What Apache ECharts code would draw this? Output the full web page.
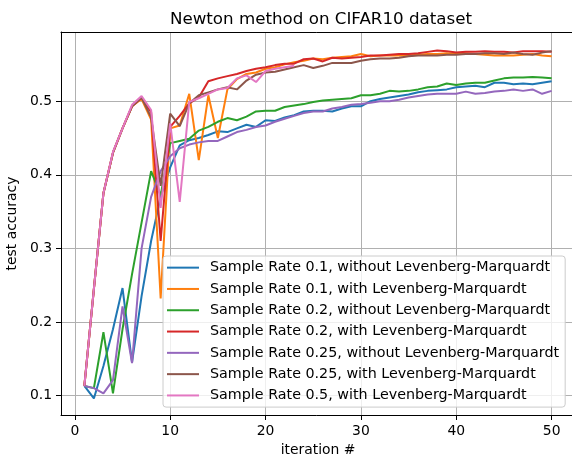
<!DOCTYPE html>
<html>
<head>
<meta charset="utf-8">
<script src="https://cdn.jsdelivr.net/npm/echarts@6/dist/echarts.min.js"></script>
<style>
  html, body { margin: 0; padding: 0; background: #fff; }
  #chart { width: 572px; height: 457px; }
</style>
</head>
<body>
<div id="chart"></div>
<script>
// iterations 1..50
const iterations = [
  1, 2, 3, 4, 5, 6, 7, 8, 9, 10, 11, 12, 13, 14, 15, 16, 17, 18, 19, 20,
  21, 22, 23, 24, 25, 26, 27, 28, 29, 30, 31, 32, 33, 34, 35, 36, 37, 38, 39, 40,
  41, 42, 43, 44, 45, 46, 47, 48, 49, 50
]
const xTicks = [0, 10, 20, 30, 40, 50]
const yTicks = [0.1, 0.2, 0.3, 0.4, 0.5]

const names = [
  'Sample Rate 0.1, without Levenberg-Marquardt',
  'Sample Rate 0.1, with Levenberg-Marquardt',
  'Sample Rate 0.2, without Levenberg-Marquardt',
  'Sample Rate 0.2, with Levenberg-Marquardt',
  'Sample Rate 0.25, without Levenberg-Marquardt',
  'Sample Rate 0.25, with Levenberg-Marquardt',
  'Sample Rate 0.5, with Levenberg-Marquardt'
]

const rate01 = [
  0.113, 0.096, 0.14, 0.19, 0.246, 0.145, 0.235, 0.31, 0.37, 0.41,
  0.44, 0.447, 0.45, 0.454, 0.459, 0.458, 0.463, 0.468, 0.465, 0.474,
  0.473, 0.478, 0.481, 0.486, 0.487, 0.487, 0.486, 0.49, 0.493, 0.493,
  0.5, 0.503, 0.505, 0.507, 0.509, 0.512, 0.514, 0.515, 0.516, 0.519,
  0.52, 0.521, 0.519, 0.525, 0.525, 0.523, 0.524, 0.523, 0.525, 0.527
]
const rate01LM = [
  0.113, 0.245, 0.375, 0.43, 0.463, 0.493, 0.503, 0.475, 0.232, 0.463,
  0.467, 0.51, 0.42, 0.508, 0.45, 0.516, 0.53, 0.537, 0.539, 0.544,
  0.546, 0.55, 0.553, 0.555, 0.558, 0.557, 0.559, 0.56, 0.561, 0.564,
  0.561, 0.562, 0.562, 0.562, 0.562, 0.563, 0.564, 0.564, 0.565, 0.565,
  0.565, 0.564, 0.563, 0.562, 0.562, 0.562, 0.563, 0.564, 0.562, 0.561
]
const rate02 = [
  0.113, 0.11, 0.186, 0.103, 0.19, 0.265, 0.335, 0.405, 0.372, 0.443,
  0.446, 0.449, 0.46, 0.465, 0.472, 0.477, 0.474, 0.479, 0.486, 0.487,
  0.487, 0.492, 0.494, 0.496, 0.499, 0.501, 0.502, 0.503, 0.504, 0.508,
  0.508, 0.51, 0.514, 0.513, 0.514, 0.516, 0.519, 0.52, 0.524, 0.522,
  0.524, 0.525, 0.525, 0.528, 0.531, 0.532, 0.532, 0.533, 0.532, 0.531
]
const rate02LM = [
  0.113, 0.245, 0.375, 0.43, 0.463, 0.493, 0.505, 0.485, 0.31, 0.465,
  0.48, 0.497, 0.505, 0.527, 0.531, 0.534, 0.537, 0.541, 0.544, 0.546,
  0.549, 0.551, 0.551, 0.557, 0.558, 0.554, 0.559, 0.558, 0.559, 0.56,
  0.562, 0.562, 0.563, 0.564, 0.564, 0.565, 0.567, 0.569, 0.568, 0.566,
  0.567, 0.567, 0.568, 0.567, 0.567, 0.566, 0.568, 0.568, 0.568, 0.567
]
const rate025 = [
  0.113, 0.11, 0.103, 0.121, 0.221, 0.144, 0.3, 0.37, 0.405, 0.425,
  0.436, 0.441, 0.444, 0.446, 0.446, 0.452, 0.458, 0.461, 0.465, 0.467,
  0.472, 0.476, 0.48, 0.484, 0.486, 0.486, 0.49, 0.492, 0.495, 0.496,
  0.498, 0.5, 0.5, 0.502, 0.505, 0.507, 0.509, 0.51, 0.51, 0.51,
  0.513, 0.51, 0.511, 0.513, 0.514, 0.516, 0.514, 0.516, 0.51, 0.514
]
const rate025LM = [
  0.113, 0.245, 0.375, 0.43, 0.463, 0.493, 0.505, 0.478, 0.385, 0.483,
  0.466, 0.497, 0.508, 0.512, 0.516, 0.519, 0.516, 0.528, 0.536, 0.539,
  0.54, 0.543, 0.546, 0.549, 0.545, 0.548, 0.552, 0.552, 0.552, 0.555,
  0.557, 0.558, 0.558, 0.559, 0.561, 0.562, 0.562, 0.562, 0.563, 0.563,
  0.564, 0.564, 0.565, 0.565, 0.564, 0.566, 0.564, 0.563, 0.566, 0.568
]
const rate05LM = [
  0.113, 0.245, 0.375, 0.431, 0.463, 0.495, 0.507, 0.488, 0.355, 0.47,
  0.363, 0.499, 0.504, 0.51, 0.516, 0.518, 0.531, 0.535, 0.526, 0.541,
  0.544, 0.546, 0.548
]

const colors = ['#1f77b4', '#ff7f0e', '#2ca02c', '#d62728', '#9467bd', '#8c564b', '#e377c2']
const allData = [rate01, rate01LM, rate02, rate02LM, rate025, rate025LM, rate05LM]

const font = 'DejaVu Sans'

const chart = echarts.init(document.getElementById('chart'), null, { renderer: 'canvas' })

const series = allData.map((arr, i) => {
  return {
    name: names[i],
    type: 'line',
    data: arr.map((v, j) => [iterations[j], v]),
    showSymbol: false,
    symbol: 'none',
    lineStyle: { color: colors[i], width: 2 },
    itemStyle: { color: colors[i] },
    z: 2 + i * 0.01
  }
})

const op = {
  animation: false,
  backgroundColor: '#fff',
  title: {
    text: 'Newton method on CIFAR10 dataset',
    left: 316,
    textAlign: 'center',
    top: 6,
    textStyle: {
      fontFamily: font,
      fontSize: 16.7,
      fontWeight: 'normal',
      color: '#000'
    }
  },
  grid: {
    left: 61,
    right: -3,
    top: 32,
    bottom: 42,
    containLabel: false,
    outerBoundsMode: 'none'
  },
  legend: {
    orient: 'vertical',
    left: 163,
    top: 256,
    data: names,
    icon: 'rect',
    itemWidth: 32,
    itemHeight: 2,
    itemGap: 0,
    padding: [1, 6, 1, 4],
    backgroundColor: 'rgba(255,255,255,0.8)',
    borderColor: '#cccccc',
    borderWidth: 1,
    borderRadius: 3,
    selectedMode: false,
    textStyle: {
      fontFamily: font,
      fontSize: 14.3,
      color: '#000',
      lineHeight: 21.3,
      padding: [0, 0, 0, 6]
    }
  },
  xAxis: [
    {
      type: 'value',
      min: -1.45,
      max: 52.45,
      name: 'iteration #',
      nameLocation: 'middle',
      nameGap: 24,
      nameTextStyle: { fontFamily: font, fontSize: 13.9, color: '#000' },
      axisLine: { show: true, onZero: false, lineStyle: { color: '#000', width: 1 } },
      axisTick: { show: true, length: 5, customValues: xTicks, lineStyle: { color: '#000' } },
      axisLabel: {
        customValues: xTicks,
        margin: 9,
        fontFamily: font,
        fontSize: 13.9,
        color: '#000'
      },
      splitLine: { show: true, lineStyle: { color: '#b0b0b0', width: 1 } }
    },
    {
      // top spine only
      type: 'value',
      position: 'top',
      min: -1.45,
      max: 52.45,
      axisLine: { show: true, onZero: false, lineStyle: { color: '#000', width: 1 } },
      axisTick: { show: false },
      axisLabel: { show: false },
      splitLine: { show: false }
    }
  ],
  yAxis: {
    type: 'value',
    min: 0.0735,
    max: 0.594,
    name: 'test accuracy',
    nameLocation: 'middle',
    nameGap: 31,
    nameTextStyle: { fontFamily: font, fontSize: 13.9, color: '#000' },
    axisLine: { show: true, onZero: false, lineStyle: { color: '#000', width: 1 } },
    axisTick: { show: true, length: 5, customValues: yTicks, lineStyle: { color: '#000' } },
    axisLabel: {
      customValues: yTicks,
      margin: 9,
      fontFamily: font,
      fontSize: 13.9,
      color: '#000',
      formatter: v => v.toFixed(1)
    },
    splitLine: { show: true, lineStyle: { color: '#b0b0b0', width: 1 } }
  },
  series: series
}

chart.setOption(op)
</script>
</body>
</html>
